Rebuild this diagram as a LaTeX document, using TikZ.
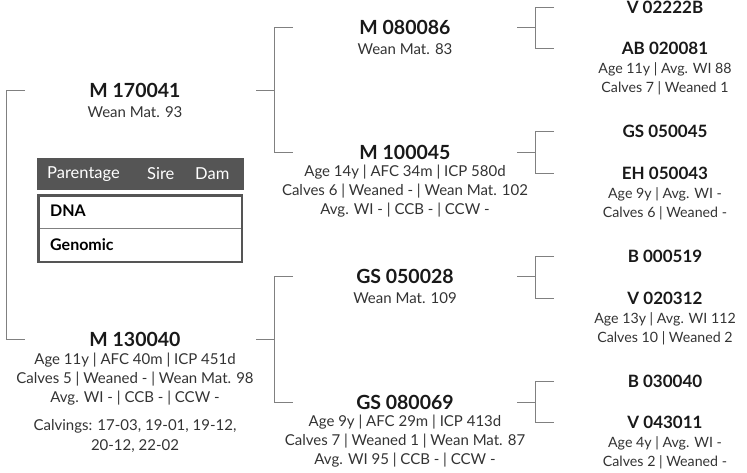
\documentclass[tikz,border=0pt]{standalone}
\usepackage{fontspec}
\setmainfont{Lato}
\usetikzlibrary{positioning}
\definecolor{linegray}{HTML}{808080}
\definecolor{hdrgray}{HTML}{555555}
\definecolor{txtgray}{HTML}{333333}

\begin{document}
\begin{tikzpicture}[x=1pt,y=-1pt,node distance=5pt,
    link/.style={draw=linegray,line width=0.9pt},
    animal/.style={inner sep=0pt,text=black!90,font=\bfseries\fontsize{19.5}{22}\selectfont},
    animalsm/.style={animal,font=\bfseries\fontsize{17}{20}\selectfont},
    facts/.style={inner sep=0pt,align=center,text=txtgray,font=\fontsize{15}{19.3}\selectfont},
    factssm/.style={facts,font=\fontsize{14.2}{19.3}\selectfont},
    cell/.style={inner sep=0pt,anchor=west,font=\bfseries\fontsize{16}{18}\selectfont}]
       \useasboundingbox (0,0) rectangle (747,473);

       % generation 1
       \node[animal] (m170041) at (135,90) {M 170041};
       \node[facts] (f170041) [below=9pt of m170041] {Wean Mat. 93};
       \node[animal] (m130040) at (135,339) {M 130040};
       \node[facts] (f130040) [below=6pt of m130040] {Age 11y | AFC 40m | ICP 451d\\Calves 5 | Weaned - | Wean Mat. 98\\Avg. WI - | CCB - | CCW -};
       \node[facts] (calv) [below=14pt of f130040] {Calvings: 17-03, 19-01, 19-12,\\20-12, 22-02};

       % generation 2
       \node[animal] (m080086) at (405,27) {M 080086};
       \node[facts] (f080086) [below=9pt of m080086] {Wean Mat. 83};
       \node[animal] (m100045) at (405,152) {M 100045};
       \node[facts] (f100045) [below=of m100045] {Age 14y | AFC 34m | ICP 580d\\Calves 6 | Weaned - | Wean Mat. 102\\Avg. WI - | CCB - | CCW -};
       \node[animal] (gs050028) at (405,276) {GS 050028};
       \node[facts] (f050028) [below=9pt of gs050028] {Wean Mat. 109};
       \node[animal] (gs080069) at (405,402) {GS 080069};
       \node[facts] (f080069) [below=of gs080069] {Age 9y | AFC 29m | ICP 413d\\Calves 7 | Weaned 1 | Wean Mat. 87\\Avg. WI 95 | CCB - | CCW -};

       % generation 3
       \node[animalsm] (v02222b) at (665,7) {V 02222B};
       \node[animalsm] (ab020081) at (665,48) {AB 020081};
       \node[factssm] (f020081) [below=8pt of ab020081] {Age 11y | Avg. WI 88\\Calves 7 | Weaned 1};
       \node[animalsm] (gs050045) at (665,131) {GS 050045};
       \node[animalsm] (eh050043) at (665,173) {EH 050043};
       \node[factssm] (f050043) [below=8pt of eh050043] {Age 9y | Avg. WI -\\Calves 6 | Weaned -};
       \node[animalsm] (b000519) at (665,256) {B 000519};
       \node[animalsm] (v020312) at (665,298) {V 020312};
       \node[factssm] (f020312) [below=8pt of v020312] {Age 13y | Avg. WI 112\\Calves 10 | Weaned 2};
       \node[animalsm] (b030040) at (665,381) {B 030040};
       \node[animalsm] (v043011) at (665,422) {V 043011};
       \node[factssm] (f043011) [below=8pt of v043011] {Age 4y | Avg. WI -\\Calves 2 | Weaned -};

       % bracket columns
       \coordinate (l0) at (6,0);   \coordinate (l1) at (25,0);
       \coordinate (a0) at (256,0); \coordinate (a1) at (274,0); \coordinate (a2) at (293,0);
       \coordinate (b0) at (517,0); \coordinate (b1) at (535,0); \coordinate (b2) at (554,0);

       \path[link]
       (l1 |- m170041) -| (l0 |- m130040) -- (l1 |- m130040)
       (a0 |- m170041) -- (a1 |- m170041)
       (a2 |- m080086) -| (a1 |- m100045) -- (a2 |- m100045)
       (a0 |- m130040) -- (a1 |- m130040)
       (a2 |- gs050028) -| (a1 |- gs080069) -- (a2 |- gs080069)
       (b0 |- m080086) -- (b1 |- m080086)
       (b2 |- v02222b) -| (b1 |- ab020081) -- (b2 |- ab020081)
       (b0 |- m100045) -- (b1 |- m100045)
       (b2 |- gs050045) -| (b1 |- eh050043) -- (b2 |- eh050043)
       (b0 |- gs050028) -- (b1 |- gs050028)
       (b2 |- b000519) -| (b1 |- v020312) -- (b2 |- v020312)
       (b0 |- gs080069) -- (b1 |- gs080069)
       (b2 |- b030040) -| (b1 |- v043011) -- (b2 |- v043011);

       % parentage table
       \fill[hdrgray] (37,158) rectangle (244,190);
       \node[cell,text=white,font=\fontsize{16.5}{18}\selectfont] (hpar) at (47,174) {Parentage};
       \node[cell,text=white,font=\fontsize{16.5}{18}\selectfont] (hsire) at (147,174) {Sire};
       \node[cell,text=white,font=\fontsize{16.5}{18}\selectfont] (hdam) at (195,174) {Dam};
       \draw[linegray,line width=0.8pt] (38,228) -- (242,228);
       \draw[hdrgray,line width=2.5pt] (38.5,195.5) rectangle (242,262);
       \node[cell] (dna) at (50,211) {DNA};
       \node[cell] (geno) at (50,245) {Genomic};
    \end{tikzpicture}
\end{document}
